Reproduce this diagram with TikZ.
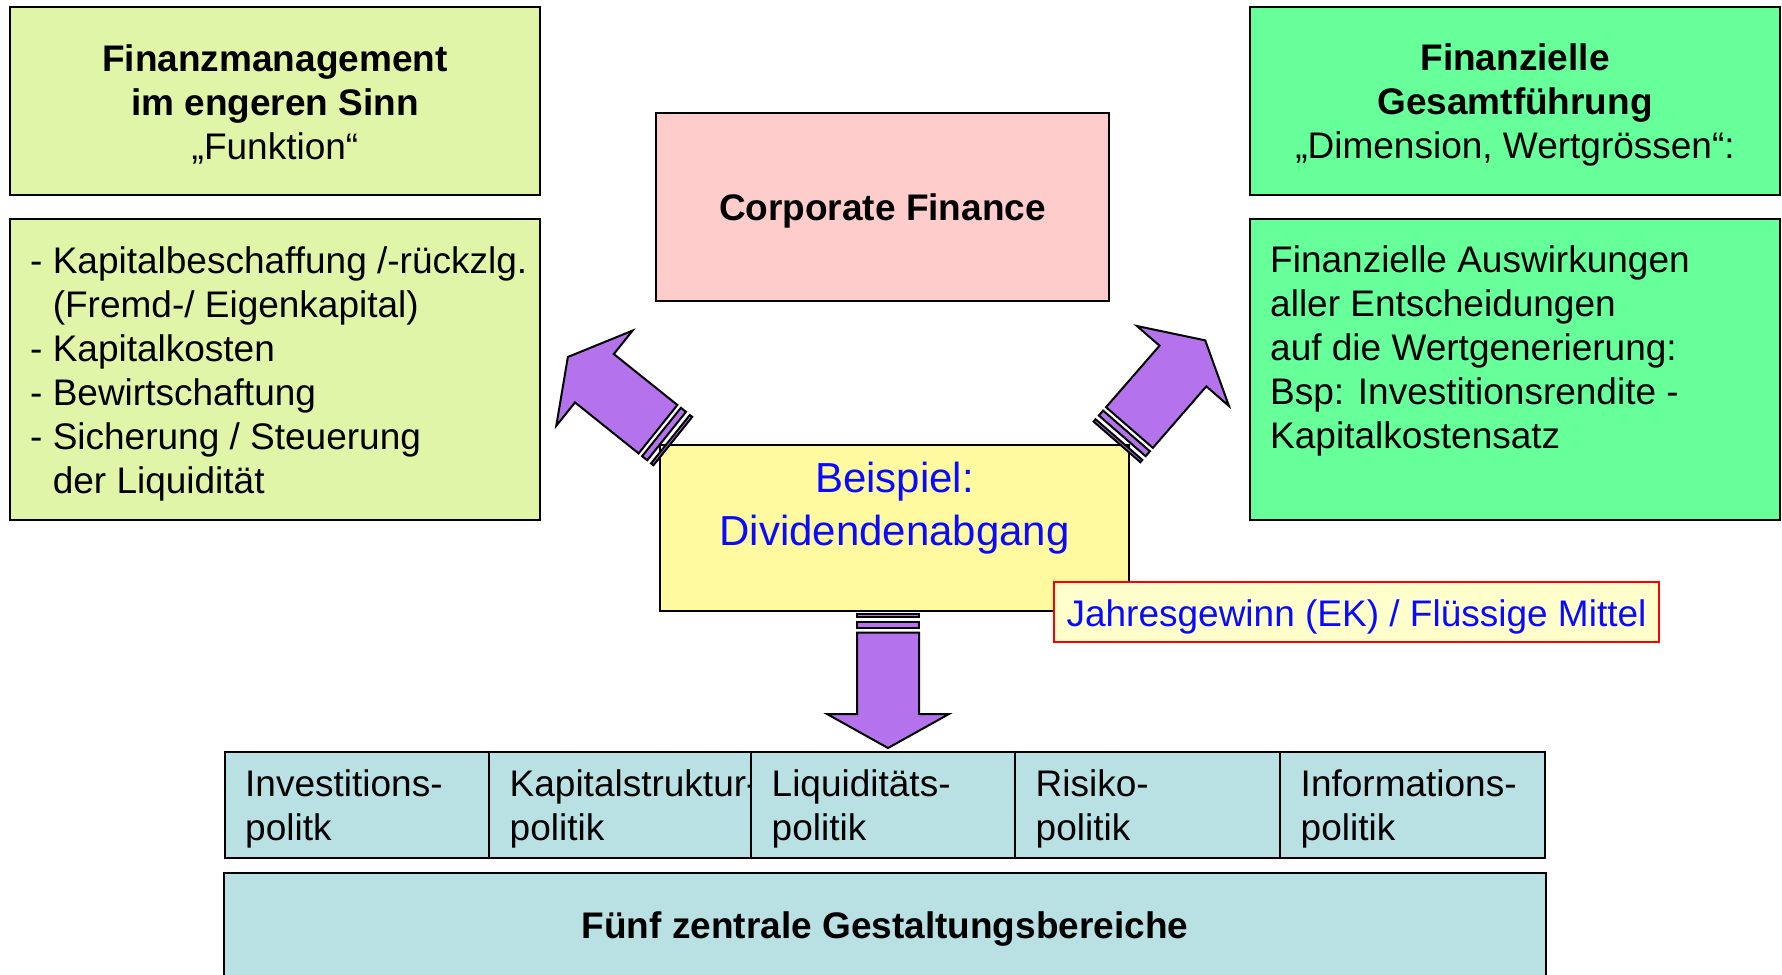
\documentclass[tikz,border=0pt]{standalone}
\usepackage{fontspec}
\setmainfont{Liberation Sans}
\definecolor{limefill}{RGB}{225,245,168}
\definecolor{mintfill}{RGB}{102,255,153}
\definecolor{rosefill}{RGB}{255,204,204}
\definecolor{butterfill}{RGB}{255,250,160}
\definecolor{creamfill}{RGB}{255,255,204}
\definecolor{tealfill}{RGB}{185,224,227}
\definecolor{violetfill}{RGB}{180,115,236}
\definecolor{textblue}{RGB}{10,10,255}
\tikzset{
  box/.style={draw=black, line width=2pt, inner sep=0pt},
  txt/.style={inner sep=0pt, font=\fontsize{37}{44}\selectfont},
  arrowfill/.style={draw=black, fill=violetfill, line width=2pt},
  fatarrow/.pic={
    \draw[arrowfill] (1.5,-31) rectangle (4.5,31);
    \draw[arrowfill] (9.5,-31) rectangle (16,31);
    \draw[arrowfill] (20.5,-31) -- (102,-31) -- (102,-61) -- (136,0)
      -- (102,61) -- (102,31) -- (20.5,31) -- cycle;
  }
}
\begin{document}
\begin{tikzpicture}[x=1pt,y=-1pt]
\useasboundingbox (0,0) rectangle (1782,974);
\clip (0,0) rectangle (1782,974);
\fill[white] (0,0) rectangle (1782,974);

% left column
\node[box, fill=limefill, minimum width=530pt, minimum height=188pt] (fm) at (275,101) {};
\node[txt, align=center] (fmt) at (275,104)
  {\textbf{Finanzmanagement}\\\textbf{im engeren Sinn}\\„Funktion“};
\node[box, fill=limefill, minimum width=530pt, minimum height=301pt] (lst) at (275,369.5) {};
\node[txt, align=left, anchor=west] (lstt) at (30,373.5)
  {- Kapitalbeschaffung /-rückzlg.\\\hphantom{-}\ (Fremd-/ Eigenkapital)\\- Kapitalkosten\\- Bewirtschaftung\\- Sicherung / Steuerung\\\hphantom{-}\ der Liquidität};

% centre
\node[box, fill=rosefill, minimum width=453pt, minimum height=188pt] (cf) at (882.5,207) {};
\node[txt] (cft) at (882.5,211) {\textbf{Corporate Finance}};

% right column
\node[box, fill=mintfill, minimum width=530pt, minimum height=188pt] (fg) at (1515,101) {};
\node[txt, align=center] (fgt) at (1515,105)
  {\textbf{Finanzielle}\\\textbf{Gesamtführung}\\„Dimension, Wertgrössen“:};
\node[box, fill=mintfill, minimum width=530pt, minimum height=301pt] (fa) at (1515,369.5) {};
\node[txt, align=left, anchor=west] (fat) at (1270,350.5)
  {Finanzielle Auswirkungen\\aller Entscheidungen\\auf die Wertgenerierung:\\Bsp: Investitionsrendite -\\Kapitalkostensatz};

% example box and note
\node[box, fill=butterfill, minimum width=469pt, minimum height=166pt] (bsp) at (894.5,528) {};
\node[inner sep=0pt, align=center, text=textblue, font=\fontsize{42}{53}\selectfont] (bspt) at (894.5,508)
  {Beispiel:\\Dividendenabgang};
\node[draw=red, line width=1.6pt, fill=creamfill, inner sep=0pt, minimum width=605pt, minimum height=60pt] (jg) at (1356.5,612) {};
\node[txt, text=textblue] (jgt) at (1356.5,616.5) {Jahresgewinn (EK) / Flüssige Mittel};

% five policy areas
\node[box, fill=tealfill, minimum width=264pt, minimum height=106pt] (c1) at (357,805) {};
\node[box, fill=tealfill, minimum width=262pt, minimum height=106pt] (c2) at (620,805) {};
\node[txt, align=left, anchor=west] (c1t) at ([xshift=21pt]c1.west |- 0,809) {Investitions-\\politk};
\node[txt, align=left, anchor=west] (c2t) at ([xshift=21.5pt]c2.west |- 0,809) {Kapitalstruktur-\\politik};
\node[box, fill=tealfill, minimum width=264pt, minimum height=106pt] (c3) at (883,805) {};
\node[txt, align=left, anchor=west] (c3t) at ([xshift=21.5pt]c3.west |- 0,809) {Liquiditäts-\\politik};
\node[box, fill=tealfill, minimum width=265pt, minimum height=106pt] (c4) at (1147.5,805) {};
\node[txt, align=left, anchor=west] (c4t) at ([xshift=21.5pt]c4.west |- 0,809) {Risiko-\\politik};
\node[box, fill=tealfill, minimum width=265pt, minimum height=106pt] (c5) at (1412.5,805) {};
\node[txt, align=left, anchor=west] (c5t) at ([xshift=21.5pt]c5.west |- 0,809) {Informations-\\politik};

\node[box, fill=tealfill, minimum width=1322pt, minimum height=107pt] (fz) at (885,926.5) {};
\node[txt] (fzt) at (885,929.5) {\textbf{Fünf zentrale Gestaltungsbereiche}};

% block arrows leaving the example box
\coordinate (aL) at (674,442);
\coordinate (aR) at (1116,443);
\coordinate (aD) at (888,612);
\pic[rotate=141.3] at (aL) {fatarrow};
\pic[rotate=49] at (aR) {fatarrow};
\pic[rotate=-90] at (aD) {fatarrow};
\end{tikzpicture}
\end{document}
